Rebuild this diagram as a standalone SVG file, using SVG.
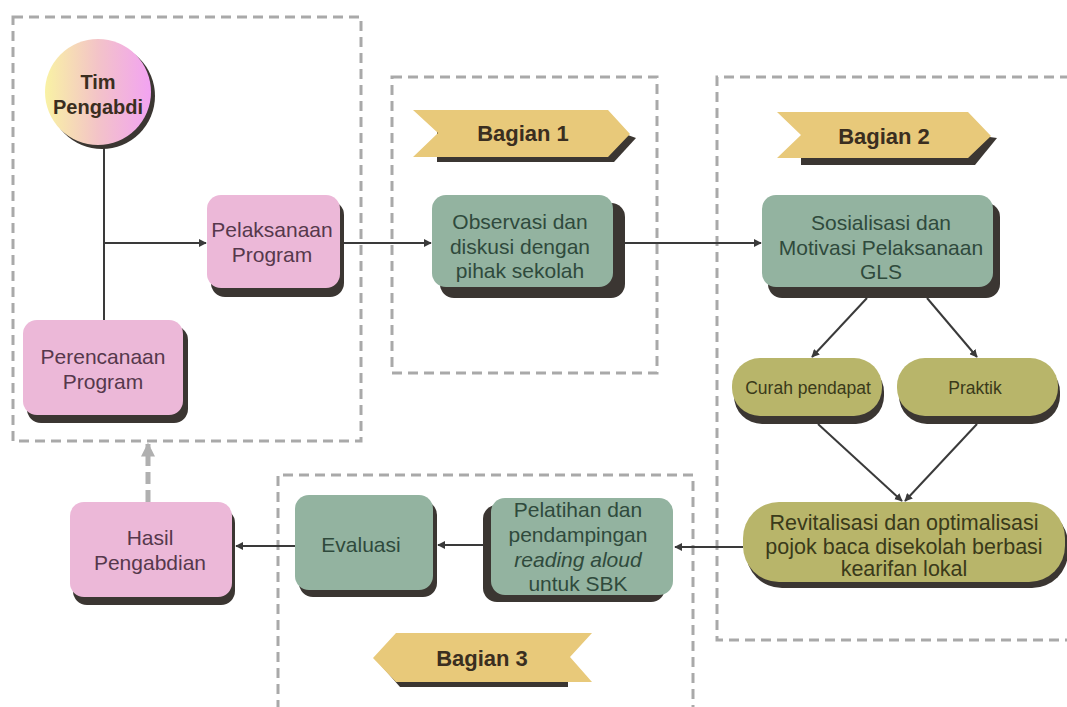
<svg xmlns="http://www.w3.org/2000/svg" width="1067" height="707" viewBox="0 0 1067 707">
<defs>
<linearGradient id="circ" x1="0" y1="0" x2="1" y2="0">
<stop offset="0" stop-color="#f9f2a4"/>
<stop offset="0.5" stop-color="#f3c3c8"/>
<stop offset="1" stop-color="#f2a3f2"/>
</linearGradient>
<marker id="ah" viewBox="0 0 10 10" refX="9" refY="5" markerWidth="8" markerHeight="8" markerUnits="userSpaceOnUse" orient="auto">
<path d="M0,0 L10,5 L0,10 z" fill="#3a3a3a"/>
</marker>
<marker id="gh" viewBox="0 0 10 10" refX="9" refY="5" markerWidth="14" markerHeight="14" markerUnits="userSpaceOnUse" orient="auto">
<path d="M0,0 L10,5 L0,10 z" fill="#b0b0b0"/>
</marker>
</defs>
<style>
.cont{fill:none;stroke:#a9a9a9;stroke-width:3;stroke-dasharray:10 6}
.sh{fill:#3b3632}
.pink{fill:#ecb8d8}
.green{fill:#93b3a0}
.olive{fill:#b8b56a}
.ban{fill:#e8c97a}
.t{font-family:"Liberation Sans",Arial,sans-serif;text-anchor:middle}
.tp{fill:#56384c;font-size:21px}
.tg{fill:#2f4a3c;font-size:21px}
.to{fill:#3a3a1a}
.tb{fill:#3a2e20;font-weight:bold;font-size:22px}
.c{fill:none;stroke:#3a3a3a;stroke-width:2}
</style>
<rect width="1067" height="707" fill="#ffffff"/>
<g id="containers">
<rect class="cont" x="13" y="17" width="348" height="424"/>
<rect class="cont" x="392" y="77" width="265" height="296"/>
<path class="cont" d="M1070,77 H717 V640 H1070"/>
<path class="cont" d="M278,710 V475 H693 V710"/>
</g>
<g id="connectors">
<line class="c" x1="104" y1="146" x2="104" y2="320"/>
<line class="c" x1="104" y1="243" x2="206" y2="243" marker-end="url(#ah)"/>
<line class="c" x1="342" y1="243" x2="431" y2="243" marker-end="url(#ah)"/>
<line class="c" x1="625" y1="243" x2="761" y2="243" marker-end="url(#ah)"/>
<line class="c" x1="867" y1="298" x2="812" y2="357" marker-end="url(#ah)"/>
<line class="c" x1="927" y1="298" x2="977" y2="357" marker-end="url(#ah)"/>
<line class="c" x1="818" y1="424" x2="902" y2="501" marker-end="url(#ah)"/>
<line class="c" x1="977" y1="424" x2="905" y2="501" marker-end="url(#ah)"/>
<line class="c" x1="743" y1="547" x2="675" y2="547" marker-end="url(#ah)"/>
<line class="c" x1="483" y1="545" x2="438" y2="545" marker-end="url(#ah)"/>
<line class="c" x1="295" y1="546" x2="236" y2="546" marker-end="url(#ah)"/>
<line x1="148" y1="502" x2="148" y2="444" stroke="#b0b0b0" stroke-width="5" stroke-dasharray="12 6" marker-end="url(#gh)"/>
</g>
<g id="tim">
<circle class="sh" cx="102" cy="96" r="53"/>
<circle cx="98" cy="92" r="53" fill="url(#circ)"/>
<text class="t tb" x="98" y="89" style="font-size:20px">Tim</text>
<text class="t tb" x="98" y="114" style="font-size:20px">Pengabdi</text>
</g>
<g id="pelaksanaan">
<rect class="sh" x="211" y="201" width="133" height="96" rx="14"/>
<rect class="pink" x="207" y="195" width="133" height="93" rx="14"/>
<text class="t tp" x="272" y="237">Pelaksanaan</text>
<text class="t tp" x="272" y="262">Program</text>
</g>
<g id="perencanaan">
<rect class="sh" x="27" y="326" width="161" height="97" rx="14"/>
<rect class="pink" x="23" y="320" width="160" height="95" rx="14"/>
<text class="t tp" x="103" y="364">Perencanaan</text>
<text class="t tp" x="103" y="389">Program</text>
</g>
<g id="bagian1">
<polygon class="sh" points="437,130 614,130 636,138 614,162 437,162"/>
<polygon class="ban" points="413,110 608,110 630,134 608,157 413,157 438,133"/>
<text class="t tb" x="523" y="141">Bagian 1</text>
</g>
<g id="observasi">
<rect class="sh" x="440" y="203" width="185" height="95" rx="14"/>
<rect class="green" x="432" y="195" width="181" height="92" rx="14"/>
<text class="t tg" x="520" y="229">Observasi dan</text>
<text class="t tg" x="520" y="254">diskusi dengan</text>
<text class="t tg" x="520" y="278">pihak sekolah</text>
</g>
<g id="bagian2">
<polygon class="sh" points="801,135 975,135 997,138 975,165 801,165"/>
<polygon class="ban" points="777,112 968,112 991,136 968,158 777,158 801,135"/>
<text class="t tb" x="884" y="144">Bagian 2</text>
</g>
<g id="sosialisasi">
<rect class="sh" x="768" y="203" width="232" height="95" rx="14"/>
<rect class="green" x="762" y="195" width="231" height="92" rx="14"/>
<text class="t tg" x="881" y="230">Sosialisasi dan</text>
<text class="t tg" x="881" y="255">Motivasi Pelaksanaan</text>
<text class="t tg" x="881" y="279">GLS</text>
</g>
<g id="curah">
<rect class="sh" x="734" y="364" width="150" height="60" rx="28"/>
<rect class="olive" x="732" y="358" width="150" height="58" rx="28"/>
<text class="t to" x="808" y="394" style="font-size:17.5px">Curah pendapat</text>
</g>
<g id="praktik">
<rect class="sh" x="899" y="364" width="161" height="60" rx="28"/>
<rect class="olive" x="897" y="358" width="161" height="58" rx="28"/>
<text class="t to" x="975" y="394" style="font-size:17.5px">Praktik</text>
</g>
<g id="revitalisasi">
<rect class="sh" x="746" y="508" width="322" height="80" rx="36"/>
<rect class="olive" x="743" y="502" width="322" height="80" rx="36"/>
<text class="t to" x="904" y="530" style="font-size:21.5px">Revitalisasi dan optimalisasi</text>
<text class="t to" x="904" y="554" style="font-size:21.5px">pojok baca disekolah berbasi</text>
<text class="t to" x="904" y="576" style="font-size:21.5px">kearifan lokal</text>
</g>
<g id="pelatihan">
<rect class="sh" x="483" y="505" width="182" height="97" rx="14"/>
<rect class="green" x="491" y="498" width="182" height="97" rx="14"/>
<text class="t tg" x="578" y="517">Pelatihan dan</text>
<text class="t tg" x="578" y="542">pendampingan</text>
<text class="t tg" x="578" y="567" font-style="italic">reading aloud</text>
<text class="t tg" x="578" y="591">untuk SBK</text>
</g>
<g id="evaluasi">
<rect class="sh" x="299" y="501" width="138" height="96" rx="14"/>
<rect class="green" x="295" y="495" width="138" height="95" rx="14"/>
<text class="t tg" x="361" y="552">Evaluasi</text>
</g>
<g id="hasil">
<rect class="sh" x="73" y="509" width="162" height="96" rx="14"/>
<rect class="pink" x="70" y="502" width="162" height="95" rx="14"/>
<text class="t tp" x="150" y="545">Hasil</text>
<text class="t tp" x="150" y="570">Pengabdian</text>
</g>
<g id="bagian3">
<polygon class="sh" points="379,663 400,687 568,687 568,660 400,660"/>
<polygon class="ban" points="373,658 396,633 592,633 570,657 592,682 396,682"/>
<text class="t tb" x="482" y="666">Bagian 3</text>
</g>
</svg>
